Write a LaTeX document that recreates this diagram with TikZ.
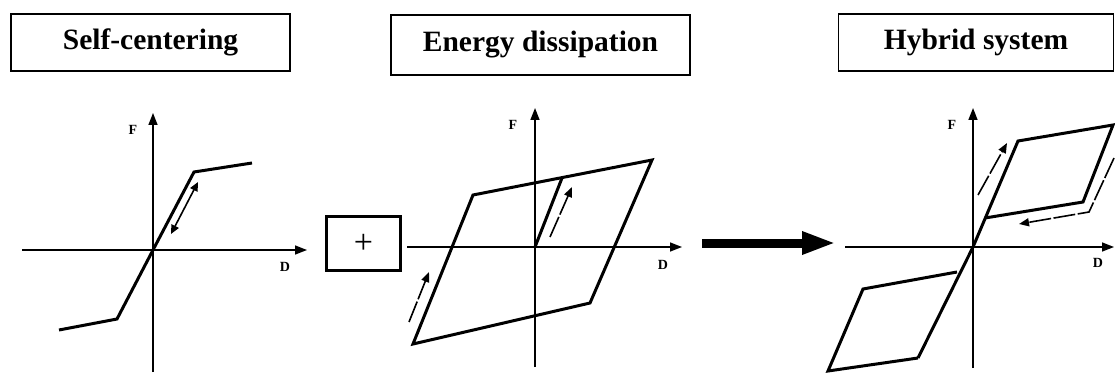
\documentclass[tikz,border=0pt]{standalone}
\usepackage{fontspec}
\setmainfont{Liberation Serif}
\usetikzlibrary{arrows.meta}
\begin{document}
\begin{tikzpicture}[x=1pt,y=-1pt,
  titlebox/.style={draw,line width=1.4pt,inner sep=0pt,font=\fontsize{29.5}{31}\selectfont\bfseries},
  axis/.style={line width=1.5pt,-{Triangle[length=12pt,width=9pt]}},
  curve/.style={line width=3pt,line join=miter},
  lbl/.style={font=\fontsize{14}{15}\selectfont\bfseries,inner sep=0pt},
  dasharrow/.style={line width=1.6pt,dash pattern=on 22pt off 2.5pt,-{Triangle[length=10pt,width=8pt]}},
  dblarrow/.style={line width=1.6pt,{Triangle[length=9pt,width=8pt]}-{Triangle[length=9pt,width=8pt]}},
  bigarrow/.style={line width=9pt,-{Triangle[length=34pt,width=21pt]}}
]
\useasboundingbox (0,0) rectangle (1115,374);

% ---- titles
\node[titlebox,minimum width=279pt,minimum height=57pt] (t1) at (150.5,42.5) {Self-centering};
\node[titlebox,minimum width=299pt,minimum height=60pt] (t2) at (540.5,45) {Energy dissipation};
\node[titlebox,minimum width=275pt,minimum height=57pt] (t3) at (976,42.5) {Hybrid system};

% ---- graph 1 : self-centering
\coordinate (o1) at (153,250);
\coordinate (a1b) at (153,372);
\coordinate (a1t) at (153,113);
\coordinate (a1l) at (22,250);
\coordinate (a1r) at (307,250);
\draw[axis] (a1b) -- (a1t);
\draw[axis] (a1l) -- (a1r);
\node[lbl] (f1) at (133,130) {F};
\node[lbl] (d1) at (285,267) {D};
\coordinate (p11) at (59,330);
\coordinate (p12) at (117,319);
\coordinate (p13) at (194,172);
\coordinate (p14) at (252,163);
\draw[curve] (p11) -- (p12) -- (o1) -- (p13) -- (p14);
\coordinate (q11) at (171,234);
\coordinate (q12) at (198,182);
\draw[dblarrow] (q11) -- (q12);

% ---- plus box
\node[draw,line width=3pt,minimum width=74pt,minimum height=54pt,inner sep=0pt,
      font=\fontsize{34}{36}\selectfont] (plus) at (363.5,243.5) {+};

% ---- graph 2 : energy dissipation
\coordinate (o2) at (535,247);
\coordinate (a2b) at (535,367);
\coordinate (a2t) at (535,108);
\coordinate (a2l) at (407,247);
\coordinate (a2r) at (682,247);
\draw[axis] (a2b) -- (a2t);
\draw[axis] (a2l) -- (a2r);
\node[lbl] (f2) at (513,125) {F};
\node[lbl] (d2) at (663,265) {D};
\coordinate (pa) at (413,344);
\coordinate (pb) at (473,195);
\coordinate (pc) at (652,160);
\coordinate (pd) at (590,303);
\coordinate (pe) at (562,178);
\draw[curve] (pa) -- (pb) -- (pc) -- (pd) -- cycle;
\draw[curve] (o2) -- (pe);
\coordinate (r21) at (550,237);
\coordinate (r22) at (572,187);
\coordinate (r23) at (409,322);
\coordinate (r24) at (429,272);
\draw[dasharrow] (r21) -- (r22);
\draw[dasharrow] (r23) -- (r24);

% ---- big arrow
\coordinate (ba1) at (702,243);
\coordinate (ba2) at (836,243);
\draw[bigarrow] (ba1) -- (ba2);

% ---- graph 3 : hybrid
\coordinate (o3) at (973,247);
\coordinate (a3b) at (973,368);
\coordinate (a3t) at (973,108);
\coordinate (a3l) at (845,247);
\coordinate (a3r) at (1114,247);
\draw[axis] (a3b) -- (a3t);
\draw[axis] (a3l) -- (a3r);
\node[lbl] (f3) at (952,125) {F};
\node[lbl] (d3) at (1098,263) {D};
\coordinate (h1) at (918,358);
\coordinate (h2) at (1018,141);
\coordinate (h3) at (1113,125);
\coordinate (h4) at (1083,202);
\coordinate (h5) at (985,218);
\coordinate (h6) at (957,272);
\coordinate (h7) at (863,289);
\coordinate (h8) at (828,371);
\draw[curve] (h1) -- (o3) -- (h2) -- (h3) -- (h4) -- (h5);
\draw[curve] (h6) -- (h7) -- (h8) -- (h1);
\coordinate (s1) at (978,195);
\coordinate (s2) at (1007,143);
\draw[dasharrow] (s1) -- (s2);
\coordinate (u1) at (1114,158);
\coordinate (u2) at (1089,212);
\coordinate (u3) at (1019,224);
\draw[dasharrow,line join=miter] (u1) -- (u2) -- (u3);
\end{tikzpicture}
\end{document}
